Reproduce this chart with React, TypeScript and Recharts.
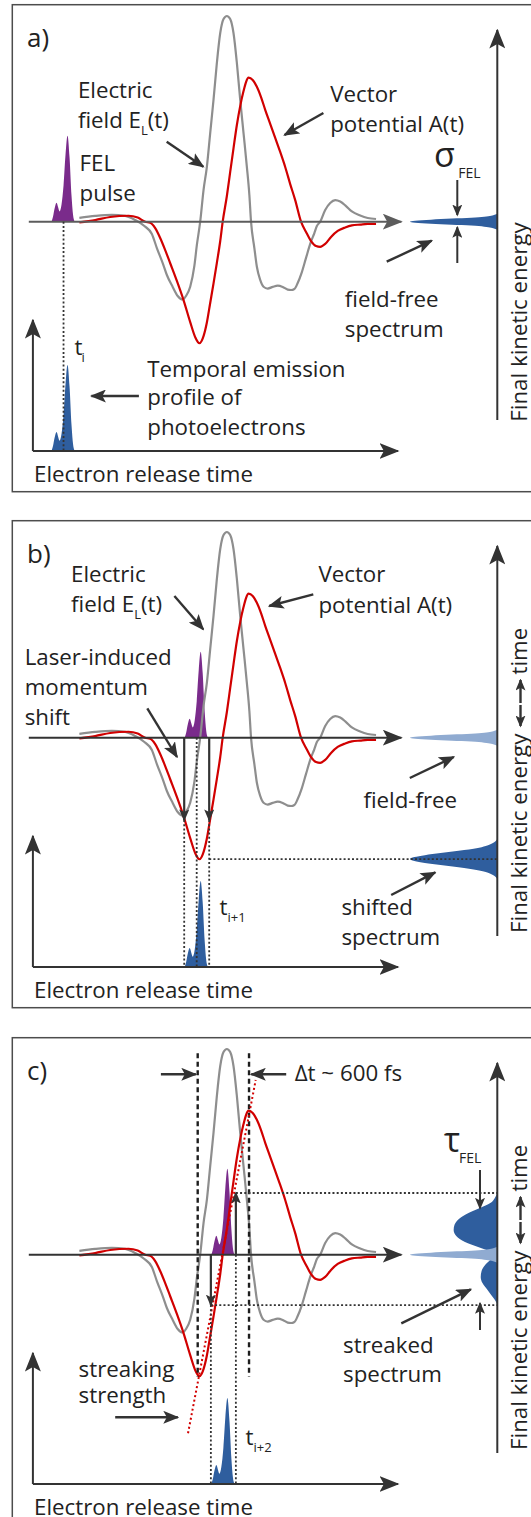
import React from "react"
import { Area, ComposedChart, Line, ReferenceLine, XAxis, YAxis } from "recharts"

// Laser field, t in fs (t = 0 at the zero crossing of A), values normalised to the E_L maximum
const fieldTime = [-1720, -1530, -1330, -1170, -1050, -940, -850, -790, -720, -670, -600, -540, -480, -440, -390, -340, -310, -270, -230, -190, -150, -110, -70, -30, 10, 50, 90, 130, 170, 210, 250, 290, 320, 340, 380, 410, 450, 490, 540, 600, 660, 720, 780, 820, 860, 900, 950, 1000, 1050, 1100, 1130, 1170, 1230, 1290, 1350, 1410, 1480, 1550, 1650, 1740, 1840]
const electricField = [0.019, 0.028, 0.033, 0.028, 0.008, -0.021, -0.06, -0.128, -0.201, -0.259, -0.317, -0.361, -0.378, -0.361, -0.316, -0.215, -0.113, 0, 0.154, 0.267, 0.431, 0.593, 0.772, 0.916, 0.985, 1.0, 0.985, 0.916, 0.772, 0.593, 0.431, 0.267, 0.13, 0, -0.128, -0.219, -0.283, -0.316, -0.325, -0.317, -0.311, -0.317, -0.33, -0.332, -0.327, -0.298, -0.245, -0.176, -0.108, -0.055, -0.021, 0, 0.057, 0.091, 0.105, 0.098, 0.076, 0.05, 0.03, 0.018, 0.013]

const potentialTime = [-1720, -1530, -1350, -1130, -1020, -930, -870, -810, -750, -690, -630, -550, -470, -390, -330, -280, -230, -190, -150, -110, -70, -30, 0, 50, 90, 130, 170, 210, 250, 280, 310, 360, 410, 460, 510, 570, 630, 690, 750, 810, 870, 940, 1000, 1060, 1120, 1170, 1230, 1300, 1380, 1470, 1550, 1650, 1740, 1840]
const vectorPotential = [-0.003, 0.008, 0.023, 0.029, 0.02, 0, -0.005, -0.031, -0.079, -0.138, -0.202, -0.288, -0.381, -0.488, -0.561, -0.591, -0.556, -0.49, -0.395, -0.3, -0.2, -0.095, 0, 0.125, 0.242, 0.358, 0.47, 0.562, 0.635, 0.679, 0.7, 0.689, 0.656, 0.606, 0.544, 0.476, 0.407, 0.339, 0.266, 0.183, 0.105, 0, -0.05, -0.094, -0.118, -0.122, -0.108, -0.074, -0.045, -0.028, -0.018, -0.014, -0.011, -0.011]

// FEL pulse and photoemission profile, offsets in fs from the pulse centre
const pulseOffset = [-144, -126, -108, -84, -66, -48, -24, 0, 24, 48, 72, 96, 114, 132]
const pulseShape = [0, 0.06, 0.15, 0.22, 0.17, 0.12, 0.2, 0.42, 0.78, 1.0, 0.75, 0.3, 0.08, 0]
const pulseCentre = { a: -1910, b: -312, c: 8 }
const pulseEdge = 150

// A(t) at the pulse edges and at the minimum of A
const edgePotential = { b: [-0.4, -0.4], c: [-0.245, 0.3] }
const potentialMin = -0.59

// Streaking ramp markers (fs) and the streaking-strength line
const rampTime = [-300, 316]
const rampTop = 0.979
const rampBottom = -0.593
const tangentTime = [-416, 396]
const tangentValue = [-0.868, 0.849]

// Photoelectron spectra: kinetic energy (units of A) and intensity
const freeEnergy = [-0.039, -0.034, -0.029, -0.024, -0.019, -0.015, -0.01, -0.005, 0, 0.005, 0.01, 0.015, 0.019, 0.024, 0.029, 0.034, 0.039]
const freeAmp = [0, 0.03, 0.07, 0.15, 0.3, 0.52, 0.76, 0.94, 1, 0.94, 0.76, 0.52, 0.3, 0.15, 0.07, 0.03, 0]
const shiftedEnergy = [-0.687, -0.668, -0.648, -0.634, -0.619, -0.609, -0.6, -0.59, -0.58, -0.571, -0.561, -0.546, -0.532, -0.512, -0.493]
const shiftedAmp = [0, 0.05, 0.18, 0.38, 0.65, 0.83, 0.95, 1, 0.95, 0.83, 0.65, 0.38, 0.18, 0.05, 0]
const streakedEnergy = [0.3, 0.275, 0.251, 0.227, 0.203, 0.174, 0.145, 0.12, 0.091, 0.062, 0.037, 0.013, -0.001, -0.021, -0.05, -0.079, -0.108, -0.138, -0.167, -0.196, -0.225, -0.245]
const streakedAmp = [0, 0.03, 0.08, 0.2, 0.33, 0.44, 0.49, 0.5, 0.47, 0.37, 0.22, 0.07, 0.03, 0.07, 0.14, 0.18, 0.19, 0.17, 0.12, 0.07, 0.02, 0]

const eData = fieldTime.map((t, i) => ({ t, v: electricField[i] }))
const aData = potentialTime.map((t, i) => ({ t, v: vectorPotential[i] }))
const pulseAt = (c: number) => pulseOffset.map((d, i) => ({ t: c + d, p: pulseShape[i] }))
const spec = (en: number[], amp: number[]) => en.map((e, i) => ({ e, a: amp[i] }))
const freeSpec = spec(freeEnergy, freeAmp)
const shiftedSpec = spec(shiftedEnergy, shiftedAmp)
const streakedSpec = spec(streakedEnergy, streakedAmp)

// layout of one panel
const W = 531
const H = 490
const X0 = 222.7
const FS_PER_PX = 12
const AXIS_Y = 221.7
const FIELD_PX = 205.7
const EM_Y = 451
const EM_TOP = 320
const PULSE_PX = 86
const E_AXIS_X = 497.3
const tAt = (px: number) => (px - X0) * FS_PER_PX
const fAt = (py: number) => (AXIS_Y - py) / FIELD_PX

const DARK = "#333333"
const AXIS_A = "#5c5c5c"
const GRAY = "#8e8e8e"
const RED = "#d10000"
const PURPLE = "#7a2b8b"
const BLUE = "#2f5e9e"
const LIGHT = "#90abd1"
const INK = "#222222"
const FONT = "'Open Sans', 'Noto Sans', sans-serif"

const heads = [
    { id: "head-lg", l: 20, w: 16, c: DARK },
    { id: "head-lg-gray", l: 20, w: 16, c: AXIS_A },
    { id: "head-md", l: 16, w: 13, c: DARK },
    { id: "head-sm", l: 12, w: 10, c: DARK },
]

const segShape = (stroke: string, width: number, dash?: string, head?: string) => (p: any) => (
    <line
        x1={p.x1}
        y1={p.y1}
        x2={p.x2}
        y2={p.y2}
        stroke={stroke}
        strokeWidth={width}
        strokeDasharray={dash}
        markerEnd={head ? `url(#${head})` : undefined}
    />
)

// vertical axis line drawn from the bottom up, so the arrow head sits on top
const upAxisShape = (p: any) => (
    <line
        x1={p.x1}
        y1={Math.max(p.y1, p.y2)}
        x2={p.x2}
        y2={Math.min(p.y1, p.y2)}
        stroke={DARK}
        strokeWidth={2}
        markerEnd="url(#head-lg)"
    />
)

function Pointer({ x1, y1, x2, y2, head = "head-md", w = 2.4 }: any) {
    return <line x1={x1} y1={y1} x2={x2} y2={y2} stroke={DARK} strokeWidth={w} markerEnd={`url(#${head})`} />
}

function Label({ x, y, size = 22.3, children }: any) {
    return (
        <text x={x} y={y} fontSize={size} fill={INK} fontFamily={FONT}>
            {children}
        </text>
    )
}

function EnergyLabel({ withTime }: { withTime: boolean }) {
    return (
        <g fontFamily={FONT} fontSize={22.3} fill={INK}>
            <text transform={`translate(527, ${withTime ? 417 : 421.7}) rotate(-90)`}>Final kinetic energy</text>
            {withTime && (
                <>
                    <line x1={520.5} y1={189} x2={520.5} y2={210} stroke={DARK} strokeWidth={2.4} markerEnd="url(#head-sm)" />
                    <line x1={520.5} y1={187} x2={520.5} y2={164} stroke={DARK} strokeWidth={2.4} markerEnd="url(#head-sm)" />
                    <text transform="translate(527, 158.5) rotate(-90)">time</text>
                </>
            )}
        </g>
    )
}

function MainChart({ id }: { id: "a" | "b" | "c" }) {
    const c = pulseCentre[id]
    const base = fAt(EM_Y)
    const eEnd = tAt(E_AXIS_X)
    const dotted = segShape(DARK, 1.8, "2 2.2")
    const arrow = segShape(DARK, 2.2, undefined, "head-sm")
    const lines: any[] = []

    lines.push({ s: [{ x: tAt(28.8), y: 0 }, { x: tAt(401.3), y: 0 }], shape: segShape(id === "a" ? AXIS_A : DARK, 2, undefined, id === "a" ? "head-lg-gray" : "head-lg") })

    if (id === "a") {
        lines.push({ s: [{ x: c, y: 0 }, { x: c, y: base }], shape: dotted })
    }
    if (id === "b") {
        const [lo, hi] = edgePotential.b
        lines.push({ s: [{ x: c - pulseEdge, y: lo }, { x: c - pulseEdge, y: base }], shape: dotted })
        lines.push({ s: [{ x: c, y: 0 }, { x: c, y: base }], shape: dotted })
        lines.push({ s: [{ x: c + pulseEdge, y: hi }, { x: c + pulseEdge, y: base }], shape: dotted })
        lines.push({ s: [{ x: c + pulseEdge, y: potentialMin }, { x: eEnd, y: potentialMin }], shape: dotted })
        lines.push({ s: [{ x: c - pulseEdge, y: 0 }, { x: c - pulseEdge, y: lo }], shape: arrow })
        lines.push({ s: [{ x: c + pulseEdge, y: 0 }, { x: c + pulseEdge, y: hi }], shape: arrow })
    }
    if (id === "c") {
        const [lo, hi] = edgePotential.c
        rampTime.forEach((t) => lines.push({ s: [{ x: t, y: rampTop }, { x: t, y: rampBottom }], shape: segShape("#1e1e1e", 2.4, "5 3.5") }))
        lines.push({ s: [{ x: tangentTime[0], y: tangentValue[0] }, { x: tangentTime[1], y: tangentValue[1] }], shape: segShape(RED, 2, "2 2.6") })
        lines.push({ s: [{ x: c - pulseEdge, y: lo }, { x: c - pulseEdge, y: base }], shape: dotted })
        lines.push({ s: [{ x: c + pulseEdge, y: 0 }, { x: c + pulseEdge, y: base }], shape: dotted })
        lines.push({ s: [{ x: c + pulseEdge, y: hi }, { x: eEnd, y: hi }], shape: dotted })
        lines.push({ s: [{ x: c - pulseEdge, y: lo }, { x: eEnd, y: lo }], shape: dotted })
        lines.push({ s: [{ x: c - pulseEdge, y: 0 }, { x: c - pulseEdge, y: lo }], shape: arrow })
        lines.push({ s: [{ x: c + pulseEdge, y: 0 }, { x: c + pulseEdge, y: hi }], shape: arrow })
    }

    return (
        <ComposedChart width={W} height={H} margin={{ top: 0, right: 0, bottom: 0, left: 0 }} style={{ position: "absolute", left: 0, top: 0 }}>
            <XAxis type="number" dataKey="t" domain={[tAt(0), tAt(W)]} hide allowDataOverflow />
            <YAxis yAxisId="f" type="number" domain={[fAt(H), fAt(0)]} hide allowDataOverflow />
            <YAxis yAxisId="p" type="number" domain={[(AXIS_Y - H) / PULSE_PX, AXIS_Y / PULSE_PX]} hide allowDataOverflow />
            <Area yAxisId="p" data={pulseAt(c)} dataKey="p" type="monotone" fill={PURPLE} fillOpacity={1} stroke="none" isAnimationActive={false} />
            <Line yAxisId="f" data={eData} dataKey="v" type="monotone" stroke={GRAY} strokeWidth={2.2} dot={false} activeDot={false} isAnimationActive={false} />
            <Line yAxisId="f" data={aData} dataKey="v" type="monotone" stroke={RED} strokeWidth={2.2} dot={false} activeDot={false} isAnimationActive={false} />
            {lines.map((l, i) => (
                <ReferenceLine key={i} yAxisId="f" segment={l.s} ifOverflow="visible" shape={l.shape} />
            ))}
        </ComposedChart>
    )
}

function EmissionChart({ id }: { id: "a" | "b" | "c" }) {
    const t0 = tAt(32.9)
    const t1 = tAt(398)
    const top = (EM_Y - EM_TOP) / PULSE_PX
    return (
        <ComposedChart width={W} height={H} margin={{ top: EM_TOP, right: W - 398, bottom: H - EM_Y, left: 32.9 }} style={{ position: "absolute", left: 0, top: 0 }}>
            <XAxis type="number" dataKey="t" domain={[t0, t1]} allowDataOverflow hide />
            <YAxis type="number" domain={[0, top]} allowDataOverflow hide />
            <Area data={pulseAt(pulseCentre[id])} dataKey="p" type="monotone" fill={BLUE} fillOpacity={1} stroke="none" isAnimationActive={false} />
            <ReferenceLine segment={[{ x: t0, y: 0 }, { x: t1, y: 0 }]} ifOverflow="visible" shape={segShape(DARK, 2, undefined, "head-lg")} />
            <ReferenceLine segment={[{ x: t0, y: 0 }, { x: t0, y: top }]} ifOverflow="visible" shape={upAxisShape} />
        </ComposedChart>
    )
}

function SpectrumChart({ id }: { id: "a" | "b" | "c" }) {
    const series =
        id === "a"
            ? [{ d: freeSpec, fill: BLUE }]
            : id === "b"
              ? [{ d: freeSpec, fill: LIGHT }, { d: shiftedSpec, fill: BLUE }]
              : [{ d: streakedSpec, fill: BLUE }, { d: freeSpec, fill: LIGHT }]
    return (
        <ComposedChart layout="vertical" width={W} height={H} margin={{ top: 30, right: W - E_AXIS_X, bottom: H - 420, left: 410 }} style={{ position: "absolute", left: 0, top: 0 }}>
            <XAxis type="number" dataKey="a" domain={[0, 1]} reversed hide allowDataOverflow />
            <YAxis type="number" dataKey="e" domain={[fAt(420), fAt(30)]} reversed hide allowDataOverflow />
            {series.map((s, i) => (
                <Area key={i} data={s.d} dataKey="a" type="monotone" fill={s.fill} fillOpacity={1} stroke="none" isAnimationActive={false} />
            ))}
            <ReferenceLine x={0} ifOverflow="visible" shape={upAxisShape} />
        </ComposedChart>
    )
}

function Notes({ id }: { id: "a" | "b" | "c" }) {
    return (
        <svg width={W} height={H} style={{ position: "absolute", left: 0, top: 0, overflow: "visible" }}>
            <rect x={12.3} y={4.7} width={600} height={487} fill="none" stroke="#4d4d4d" strokeWidth={1.5} />
            <Label x={27} y={46.5} size={26}>{id})</Label>
            <Label x={34} y={482}>Electron release time</Label>
            <EnergyLabel withTime={id !== "a"} />
            {id === "a" && (
                <>
                    <Label x={77.9} y={98.3}>Electric</Label>
                    <Label x={77.9} y={128.3}>field E<tspan fontSize={13} dy={7}>L</tspan><tspan dy={-7}>(t)</tspan></Label>
                    <Label x={330.2} y={101.7}>Vector</Label>
                    <Label x={330.2} y={131.7}>potential A(t)</Label>
                    <Label x={79.6} y={170.7}>FEL</Label>
                    <Label x={79.6} y={200.7}>pulse</Label>
                    <Label x={434} y={167} size={34}>σ</Label>
                    <Label x={458.3} y={178.3} size={14}>FEL</Label>
                    <Label x={344.8} y={306.7}>field-free</Label>
                    <Label x={344.8} y={336.7}>spectrum</Label>
                    <Label x={74.5} y={355}>t<tspan fontSize={13} dy={7} dx={-1}>i</tspan></Label>
                    <Label x={147.3} y={376.7}>Temporal emission</Label>
                    <Label x={147.3} y={405}>profile of</Label>
                    <Label x={147.3} y={435}>photoelectrons</Label>
                    <Pointer x1={166.7} y1={141.7} x2={203.3} y2={166.7} />
                    <Pointer x1={323.4} y1={113} x2={284.5} y2={135} />
                    <Pointer x1={386.7} y1={261.7} x2={431.7} y2={240.7} />
                    <Pointer x1={457.3} y1={180} x2={457.3} y2={215} head="head-sm" w={2} />
                    <Pointer x1={457.3} y1={263} x2={457.3} y2={227.3} head="head-sm" w={2} />
                    <Pointer x1={138.9} y1={396} x2={91.4} y2={396} />
                </>
            )}
            {id === "b" && (
                <>
                    <Label x={71.1} y={65.7}>Electric</Label>
                    <Label x={71.1} y={95.7}>field E<tspan fontSize={13} dy={7}>L</tspan><tspan dy={-7}>(t)</tspan></Label>
                    <Label x={318.4} y={65.7}>Vector</Label>
                    <Label x={318.4} y={97.3}>potential A(t)</Label>
                    <Label x={24.7} y={149}>Laser-induced</Label>
                    <Label x={24.7} y={179}>momentum</Label>
                    <Label x={24.7} y={209}>shift</Label>
                    <Label x={363.4} y={292}>field-free</Label>
                    <Label x={341.4} y={399}>shifted</Label>
                    <Label x={341.4} y={429}>spectrum</Label>
                    <Label x={219.5} y={399}>t<tspan fontSize={13} dy={7}>i+1</tspan></Label>
                    <Pointer x1={174.4} y1={80} x2={203.2} y2={113.3} />
                    <Pointer x1={313.3} y1={78.3} x2={269.2} y2={90} />
                    <Pointer x1={147.3} y1={192.3} x2={177} y2={241} />
                    <Pointer x1={409.8} y1={262} x2={453.8} y2={241} />
                    <Pointer x1={391.2} y1={379} x2={435.2} y2={356.4} />
                </>
            )}
            {id === "c" && (
                <>
                    <Label x={294.7} y={47.7}>Δt ~ 600 fs</Label>
                    <Label x={444} y={118.7} size={34}>τ</Label>
                    <Label x={459} y={129.7} size={14}>FEL</Label>
                    <Label x={343.1} y={320.3}>streaked</Label>
                    <Label x={343.1} y={348.7}>spectrum</Label>
                    <Label x={78.6} y={343.7}>streaking</Label>
                    <Label x={78.6} y={370.3}>strength</Label>
                    <Label x={245.6} y={412}>t<tspan fontSize={13} dy={7}>i+2</tspan></Label>
                    <Pointer x1={160.9} y1={41.3} x2={195.8} y2={41.3} />
                    <Pointer x1={286.2} y1={41.3} x2={251.3} y2={41.3} />
                    <Pointer x1={480} y1={137} x2={480} y2={175.3} head="head-sm" w={2} />
                    <Pointer x1={480} y1={297} x2={480} y2={270.3} head="head-sm" w={2} />
                    <Pointer x1={401.3} y1={290.3} x2={470.8} y2={256.3} />
                    <Pointer x1={115.2} y1={384.3} x2={177.8} y2={384.3} />
                </>
            )}
        </svg>
    )
}

function Panel({ id, top }: { id: "a" | "b" | "c"; top: number }) {
    return (
        <div style={{ position: "absolute", left: 0, top, width: W, height: H }}>
            <SpectrumChart id={id} />
            <EmissionChart id={id} />
            <MainChart id={id} />
            <Notes id={id} />
        </div>
    )
}

export default function App() {
    return (
        <div style={{ position: "absolute", left: 0, top: 0, width: 531, height: 1517, overflow: "hidden", background: "#fff" }}>
            <svg width={0} height={0} style={{ position: "absolute" }}>
                <defs>
                    {heads.map((h) => (
                        <marker key={h.id} id={h.id} viewBox={`0 0 ${h.l} ${h.w}`} refX={h.l - 1.5} refY={h.w / 2}
                            markerWidth={h.l} markerHeight={h.w} markerUnits="userSpaceOnUse" orient="auto-start-reverse">
                            <path d={`M0,0 L${h.l},${h.w / 2} L0,${h.w} L${h.l * 0.22},${h.w / 2} Z`} fill={h.c} />
                        </marker>
                    ))}
                </defs>
            </svg>
            <Panel id="a" top={0} />
            <Panel id="b" top={516} />
            <Panel id="c" top={1033} />
        </div>
    )
}
